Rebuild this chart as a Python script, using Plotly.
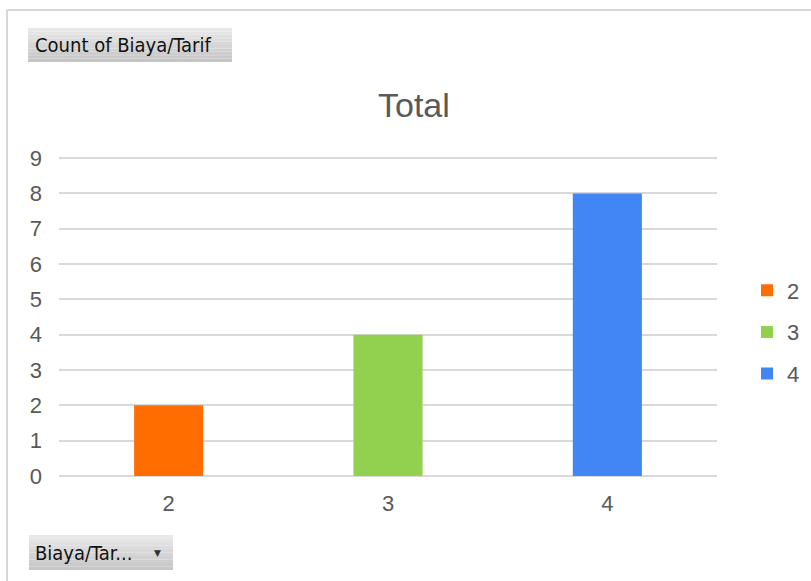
import plotly.graph_objects as go

categories = ["2", "3", "4"]
series_names = ["2", "3", "4"]
values = [2, 4, 8]
colors = ["#FF6D01", "#92D050", "#4285F4"]
y_ticks = list(range(0, 10))

W, H = 811, 581
L, R, T, B = 59, 717, 157, 476  # plot area pixels
YMAX = 9.03


def px(x):
    return (x - L) / (R - L)


def py(y):
    return (B - y) / (B - T)


fig = go.Figure()
for name, cat, val, col in zip(series_names, categories, values, colors):
    fig.add_trace(go.Bar(
        x=[cat], y=[val], name=name, marker_color=col,
        marker_line_width=0, width=0.315, legendgroup=name,
    ))

shapes = [
    # chart border
    dict(type="line", xref="paper", yref="paper", x0=px(7), x1=px(7), y0=py(10), y1=py(600),
         line=dict(color="#d6d6d6", width=2)),
    dict(type="line", xref="paper", yref="paper", x0=px(7), x1=px(830), y0=py(10), y1=py(10),
         line=dict(color="#d6d6d6", width=2)),
]
# buttons (banded to imitate a vertical gradient)
nb = 10
for (x0, y0, x1, y1) in [(28, 28, 232, 62), (29, 535, 173, 570)]:
    h = (y1 - y0) / nb
    for i in range(nb):
        g = int(0xE8 - (0xE8 - 0xC6) * i / (nb - 1))
        shapes.append(dict(type="rect", xref="paper", yref="paper", x0=px(x0), x1=px(x1),
                           y0=py(y0 + i * h), y1=py(y0 + (i + 1) * h),
                           fillcolor=f"rgb({g},{g},{g})", line_width=0, layer="above"))

btn_font = dict(family="DejaVu Sans Condensed, Liberation Sans Narrow, sans-serif", size=20, color="#111111")
annotations = [
    dict(text="Count of Biaya/Tarif", x=px(33), y=py(45), xref="paper", yref="paper",
         xanchor="left", yanchor="middle", showarrow=False, font=btn_font),
    dict(text="Biaya/Tar...", x=px(33), y=py(553), xref="paper", yref="paper",
         xanchor="left", yanchor="middle", showarrow=False, font=btn_font),
    dict(text="\u25BC", x=px(157), y=py(553), xref="paper", yref="paper",
         xanchor="center", yanchor="middle", showarrow=False,
         font=dict(family="DejaVu Sans", size=9, color="#333333")),
    dict(text="Total", x=px(414), y=py(105), xref="paper", yref="paper",
         xanchor="center", yanchor="middle", showarrow=False,
         font=dict(family="Liberation Sans, Arial, sans-serif", size=34, color="#595959")),
]

fig.update_layout(
    width=W, height=H,
    margin=dict(l=L, r=W - R, t=T, b=H - B, pad=0, autoexpand=False),
    paper_bgcolor="white", plot_bgcolor="white",
    barmode="overlay",
    showlegend=True,
    legend=dict(x=px(747), y=py(332), xanchor="left", yanchor="middle",
                font=dict(family="Liberation Sans, Arial, sans-serif", size=22, color="#595959"),
                tracegroupgap=10, itemwidth=30, bgcolor="rgba(0,0,0,0)"),
    font=dict(family="Liberation Sans, Arial, sans-serif", color="#595959"),
    shapes=shapes,
    annotations=annotations,
    xaxis=dict(type="category", categoryorder="array", categoryarray=categories,
               showgrid=False, zeroline=False, showline=False, ticks="",
               tickfont=dict(size=22, color="#595959"), ticklabelstandoff=12),
    yaxis=dict(range=[0, YMAX], tickvals=y_ticks, showgrid=True, gridcolor="#d9d9d9", gridwidth=2,
               zeroline=True, zerolinecolor="#d9d9d9", zerolinewidth=2, showline=False, ticks="",
               tickfont=dict(size=22, color="#595959"), ticklabelstandoff=16),
)

fig.write_html("out.html", config={"displayModeBar": False},
               post_script="document.body.style.margin='0';document.body.style.overflow='hidden';")
